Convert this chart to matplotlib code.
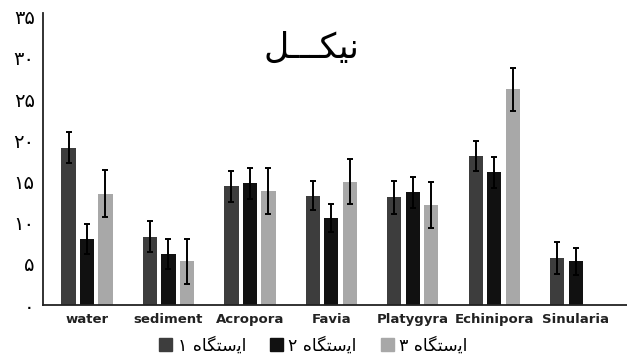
import numpy as np
import matplotlib
matplotlib.use('Agg')
import matplotlib.pyplot as plt
from matplotlib.patches import Patch

# data (nickel, per station)
categories = ['water', 'sediment', 'Acropora', 'Favia', 'Platygyra', 'Echinipora', 'Sinularia']
station1 = [19.1, 8.3, 14.4, 13.3, 13.1, 18.1, 5.7]
station2 = [8.0, 6.2, 14.8, 10.6, 13.7, 16.1, 5.3]
station3 = [13.5, 5.3, 13.9, 15.0, 12.1, 26.2, np.nan]
err1 = [1.9, 1.9, 1.9, 1.8, 2.0, 1.8, 1.9]
err2 = [1.8, 1.8, 1.9, 1.7, 1.9, 1.9, 1.6]
err3 = [2.85, 2.75, 2.8, 2.7, 2.8, 2.6, np.nan]

yticks = [0, 5, 10, 15, 20, 25, 30, 35]
ytick_labels = ['۰', '۵', '۱۰', '۱۵', '۲۰', '۲۵', '۳۰', '۳۵']

# Persian text pre-shaped (presentation forms, visual order) since matplotlib has no RTL shaping
title_txt = '\uFEDE\u0640\u0640\u0640\uFB91\uFBFF\uFEE7'          # نیکـــل
station_word = '\uFEE9\uFE8E\uFB95\uFE98\uFEB3\uFBFE\uFE8D'      # ایستگاه
legend_labels = ['۱ ' + station_word, '۲ ' + station_word, '۳ ' + station_word]

colors = ['#3d3d3d', '#111111', '#a8a8a8']

plt.rcParams['font.family'] = ['DejaVu Sans']

fig = plt.figure(figsize=(6.27, 3.58), dpi=100)
ax = fig.add_axes([0.0686, 0.148, 0.9314, 0.8165])

x = np.arange(len(categories))
w = 0.175
step = 0.227
series = [station1, station2, station3]
errs = [err1, err2, err3]
for i, (vals, e) in enumerate(zip(series, errs)):
    ax.bar(x + (i - 1) * step, vals, width=w, color=colors[i], zorder=2)
    ax.errorbar(x + (i - 1) * step, vals, yerr=e, fmt='none', ecolor='black',
                elinewidth=1.4, capsize=2.4, capthick=1.4, zorder=3)

ax.set_xlim(-0.54, 6.63)
ax.set_ylim(0, 35.5)
ax.set_yticks(yticks)
ax.set_yticklabels(ytick_labels, fontsize=14)
ax.set_xticks(x)
ax.set_xticklabels(categories, fontsize=9.5, fontweight='bold', color='#222222')
ax.tick_params(axis='both', length=0)
ax.tick_params(axis='y', pad=6)
ax.tick_params(axis='x', pad=6)

for s in ['top', 'right']:
    ax.spines[s].set_visible(False)
for s in ['left', 'bottom']:
    ax.spines[s].set_linewidth(1.3)
    ax.spines[s].set_color('#222222')

ax.text(0.46, 0.88, title_txt, transform=ax.transAxes, ha='center', va='center',
        fontsize=25, color='black')

handles = [Patch(color=c) for c in colors]
fig.legend(handles, legend_labels, loc='lower center', bbox_to_anchor=(0.5, -0.035), ncol=3,
           frameon=False, fontsize=12.5, handlelength=0.75, handleheight=0.75,
           handletextpad=0.3, columnspacing=1.4)

plt.savefig('out.png', dpi=100)
